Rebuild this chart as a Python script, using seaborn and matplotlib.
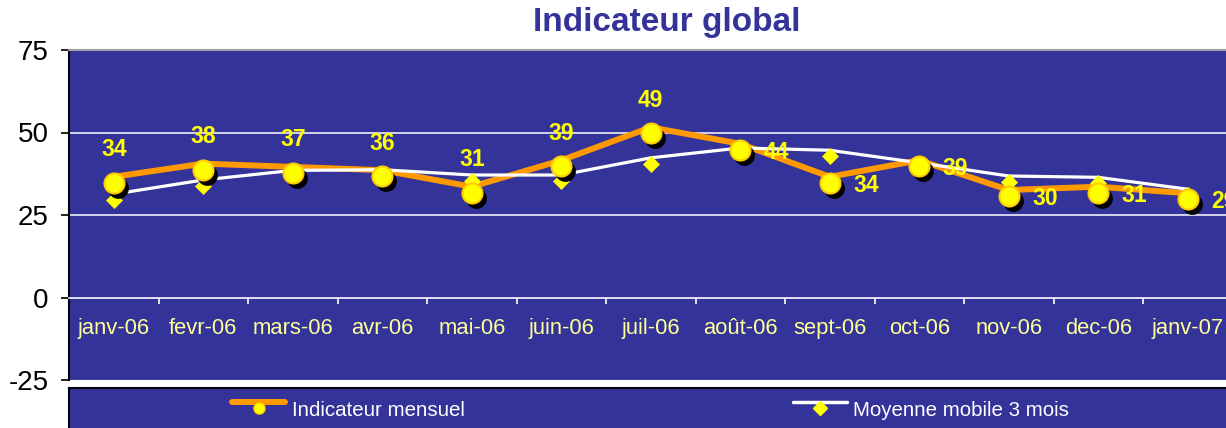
import numpy as np
import pandas as pd
import matplotlib
matplotlib.use("Agg")
import matplotlib.pyplot as plt
import seaborn as sns
from matplotlib.transforms import offset_copy
from matplotlib.lines import Line2D
from matplotlib.legend_handler import HandlerLine2DCompound

# ---------------- data ----------------
months = ["janv-06", "fevr-06", "mars-06", "avr-06", "mai-06", "juin-06", "juil-06",
          "août-06", "sept-06", "oct-06", "nov-06", "dec-06", "janv-07"]
indicateur = [34, 38, 37, 36, 31, 39, 49, 44, 34, 39, 30, 31, 29]
moyenne = [29.5, 33.8, 36.7, 36.9, 35.3, 35.3, 40.5, 43.5, 42.8, 39.0, 35.0, 34.6, 31.0]
y_ticks = [-25, 0, 25, 50, 75]
title = "Indicateur global"
series_names = ["Indicateur mensuel", "Moyenne mobile 3 mois"]

# ---------------- style ----------------
BG = "#333399"
ORANGE = "#FF9900"
YELLOW = "#FFFF00"
LABEL_YELLOW = "#FFFF99"

sns.set_theme(style="white")
plt.rcParams["font.family"] = ["Liberation Sans", "DejaVu Sans"]
plt.rcParams["axes.unicode_minus"] = False

W, H = 1226, 428
fig = plt.figure(figsize=(W / 100, H / 100), dpi=100)
ax = fig.add_axes([69 / W, (H - 380) / H, 13 * 89.5 / W, 330 / H])
ax.set_facecolor(BG)

df = pd.DataFrame({"mois": months, "ind": indicateur, "moy": moyenne})


def off(dx, dy):
    return offset_copy(ax.transData, fig=fig, x=dx, y=dy, units="dots")


# gridlines
for g in [25, 50]:
    ax.axhline(g, color="white", lw=1.1, zorder=1)
ax.axhline(-25, color="#8888bb", lw=1.0, zorder=1)

# lines
sns.lineplot(data=df, x="mois", y="ind", sort=False, color=ORANGE, lw=4.3,
             ax=ax, zorder=2, transform=off(0, 8.5), legend=False)
sns.lineplot(data=df, x="mois", y="moy", sort=False, color="white", lw=2.3,
             ax=ax, zorder=3, transform=off(0, 6), legend=False)
# diamonds
sns.lineplot(data=df, x="mois", y="moy", sort=False, color=YELLOW, linestyle="none",
             marker="D", markersize=8, markerfacecolor=YELLOW, markeredgecolor=YELLOW,
             markeredgewidth=0.5, ax=ax, zorder=4, legend=False)
# circle shadows
sns.lineplot(data=df, x="mois", y="ind", sort=False, color="black", linestyle="none",
             marker="o", markersize=14.4, markerfacecolor="black", markeredgecolor="black",
             markeredgewidth=0.5, ax=ax, zorder=5, transform=off(4, -2.5), legend=False)
# circles
sns.lineplot(data=df, x="mois", y="ind", sort=False, color=YELLOW, linestyle="none",
             marker="o", markersize=14.4, markerfacecolor=YELLOW, markeredgecolor="#FFCC00",
             markeredgewidth=1.5, ax=ax, zorder=6, transform=off(0, 2.5), legend=False)

# data labels
for i, v in enumerate(indicateur):
    xyt = (0, 25.5) if i < 7 else (26, 0)
    ax.annotate(str(v), xy=(i, v), xytext=xyt, textcoords="offset points",
                ha="center", va="center", fontsize=16.5, fontweight="bold",
                color=YELLOW, zorder=7)

# axes
ax.set_xlim(-0.5, 12.5)
ax.set_ylim(-25, 75)
ax.set_yticks(y_ticks)
ax.set_xticks(range(len(months)))
ax.set_xticklabels(months)
ax.set_xticks(np.arange(-0.5, 13, 1), minor=True)
ax.set_xlabel("")
ax.set_ylabel("")

ax.spines["bottom"].set_position(("data", 0))
ax.spines["bottom"].set_color("white")
ax.spines["bottom"].set_linewidth(1.2)
ax.spines["left"].set_color("black")
ax.spines["left"].set_linewidth(1.5)
ax.spines["top"].set_color("#A0A0A0")
ax.spines["top"].set_linewidth(1.5)
ax.spines["right"].set_visible(False)

ax.tick_params(axis="y", left=True, length=6, width=1.2, color="black", pad=8.5,
               labelsize=20, labelcolor="black")
ax.tick_params(axis="x", which="major", bottom=True, length=0, pad=15,
               labelsize=15.8, labelcolor=LABEL_YELLOW)
ax.tick_params(axis="x", which="minor", bottom=True, length=4, width=1.2,
               color="white", direction="out")

# title
fig.text(667 / W, 1 - 23 / H, title, ha="center", va="center", fontsize=24,
         fontweight="bold", color=BG)

# legend box
lax = fig.add_axes([69 / W, -0.05, 1 - 69 / W + 0.01, (H - 388) / H + 0.05])
lax.set_facecolor(BG)
lax.set_xticks([])
lax.set_yticks([])
for s in lax.spines.values():
    s.set_color("black")
    s.set_linewidth(1.5)


class ShiftedLine(HandlerLine2DCompound):
    def __init__(self, dy=0, **kw):
        super().__init__(**kw)
        self.dy = dy

    def create_artists(self, legend, orig_handle, xdescent, ydescent, width, height,
                       fontsize, trans):
        arts = super().create_artists(legend, orig_handle, xdescent, ydescent, width,
                                      height, fontsize, trans)
        arts[0].set_ydata(np.asarray(arts[0].get_ydata()) + self.dy)
        return arts


h1 = Line2D([], [], color=ORANGE, lw=4.3, marker="o", markersize=8,
            markerfacecolor=YELLOW, markeredgecolor="#FFCC00")
h2 = Line2D([], [], color="white", lw=2.5, marker="D", markersize=7,
            markerfacecolor=YELLOW, markeredgecolor=YELLOW)
leg = lax.legend([h1, h2], series_names, loc="center left",
                 bbox_to_anchor=(232 / W, 1 - 410 / H), bbox_transform=fig.transFigure,
                 ncol=2, frameon=False, fontsize=14.8, labelcolor="white",
                 handlelength=2.6, handletextpad=0.3, columnspacing=16,
                 borderpad=0, borderaxespad=0,
                 handler_map={h1: ShiftedLine(dy=4.3), h2: ShiftedLine(dy=4.3)})

fig.savefig("out.png", dpi=100)
